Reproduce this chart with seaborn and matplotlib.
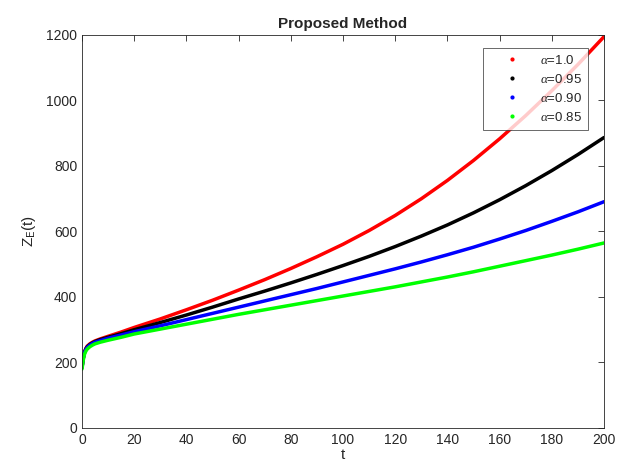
import numpy as np
import pandas as pd
import matplotlib
matplotlib.use('Agg')
import matplotlib.pyplot as plt
import seaborn as sns
from matplotlib.lines import Line2D

# values
t = [0, 0.5, 1, 1.5, 2, 3, 4, 5, 7, 10, 15, 20, 30, 40, 50, 60, 70, 80, 90, 100,
     110, 120, 130, 140, 150, 160, 170, 180, 190, 200]
z_a100 = [185, 215, 233, 243, 250, 257, 262, 266, 272, 280, 293, 307, 333, 361, 390, 421,
          453, 487, 523, 561, 603, 649, 700, 756, 817, 883, 954, 1030, 1110, 1195]
z_a095 = [185, 214, 232, 242, 248, 255, 260, 264, 270, 277, 288, 300, 322, 345, 369, 394,
          418, 443, 469, 496, 524, 554, 586, 620, 657, 697, 740, 786, 835, 887]
z_a090 = [185, 213, 231, 240, 246, 253, 258, 262, 267, 274, 284, 294, 312, 331, 350, 369,
          388, 407, 426, 446, 466, 486, 507, 529, 552, 577, 603, 631, 660, 691]
z_a085 = [180, 208, 226, 235, 241, 248, 253, 257, 262, 268, 277, 287, 302, 317, 332, 347,
          361, 375, 389, 403, 417, 431, 446, 461, 477, 494, 511, 528, 546, 565]
labels = [r'$\alpha$=1.0', r'$\alpha$=0.95', r'$\alpha$=0.90', r'$\alpha$=0.85']
colors = ['#ff0000', '#000000', '#0000ff', '#00ff00']

df = pd.concat([
    pd.DataFrame({'t': t, 'Z': z, 'alpha': lab})
    for z, lab in zip([z_a100, z_a095, z_a090, z_a085], labels)
])

sns.set_style('white')
plt.rcParams['font.family'] = ['Liberation Sans', 'DejaVu Sans']
plt.rcParams['mathtext.fontset'] = 'custom'
plt.rcParams['mathtext.it'] = 'Liberation Serif:italic'

fig = plt.figure(figsize=(6.17, 4.71), dpi=100)
ax = fig.add_axes([0.1329, 0.0913, 0.8461, 0.8344])

sns.lineplot(data=df, x='t', y='Z', hue='alpha', palette=colors, linewidth=2.5,
             legend=False, ax=ax)

ax.set_xlim(0, 200)
ax.set_ylim(0, 1200)
ax.set_xticks(np.arange(0, 201, 20))
ax.set_yticks(np.arange(0, 1201, 200))
ax.tick_params(direction='in', top=True, right=True, labelsize=10, length=4,
               width=0.6, colors='#262626')
for s in ax.spines.values():
    s.set_color('#262626')
    s.set_linewidth(0.6)

ax.set_title('Proposed Method', fontsize=11, fontweight='bold', pad=5)
ax.set_xlabel('t', fontsize=11, labelpad=1)
ax.set_ylabel(r'Z$_\mathrm{E}$(t)', fontsize=11, labelpad=6)

handles = [Line2D([], [], color=c, marker='.', linestyle='none', markersize=4)
           for c in colors]
leg = ax.legend(handles, labels, loc='upper right', bbox_to_anchor=(0.969, 0.967),
                borderaxespad=0, fontsize=9.5, frameon=True, fancybox=False,
                handlelength=3.5, handletextpad=0.4, borderpad=0.45,
                labelspacing=0.45)
leg.get_frame().set_edgecolor('#262626')
leg.get_frame().set_linewidth(0.6)

fig.savefig('out.png', dpi=100)
